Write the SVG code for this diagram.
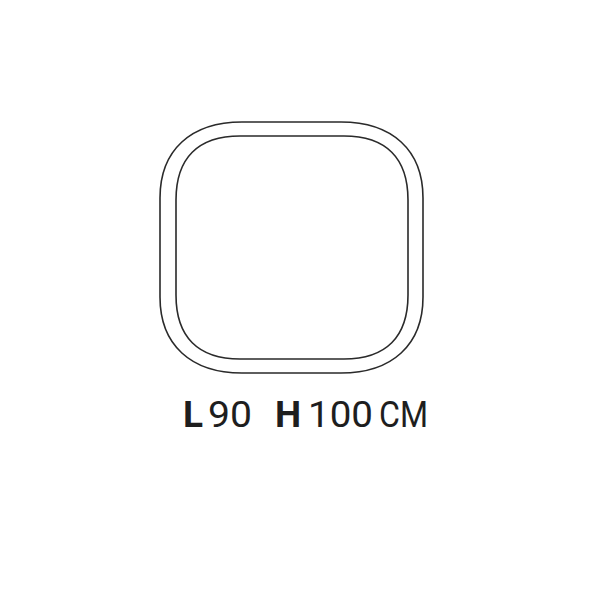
<svg xmlns="http://www.w3.org/2000/svg" width="600" height="600" viewBox="0 0 600 600">
<style>
.o{fill:none;stroke:#2a2a2a;stroke-width:1.6}
.t{font-family:Roboto,"Liberation Sans",sans-serif;font-size:37px;fill:#1e1e1e}
.b{font-weight:bold}
</style>
<rect width="600" height="600" fill="#fff"/>
<g id="outer">
<path class="o" d="M242,122 H341 C392,122 423,150 423,198 V297 C423,345 392,373 341,373 H242 C191,373 160,345 160,297 V198 C160,150 191,122 242,122 Z"/>
</g>
<g id="inner">
<path class="o" d="M240,136 H344 C386,136 408,158 408,200 V295 C408,337 386,359 344,359 H240 C198,359 176,337 176,295 V200 C176,158 198,136 240,136 Z"/>
</g>
<g id="label">
<text class="t b" x="183" y="427">L</text>
<text class="t" x="208" y="427" textLength="44" lengthAdjust="spacingAndGlyphs">90</text>
<text class="t b" x="275" y="427">H</text>
<text class="t" x="308" y="427" textLength="65" lengthAdjust="spacingAndGlyphs">100</text>
<text class="t" x="379" y="427" textLength="49" lengthAdjust="spacingAndGlyphs">CM</text>
</g>
</svg>
